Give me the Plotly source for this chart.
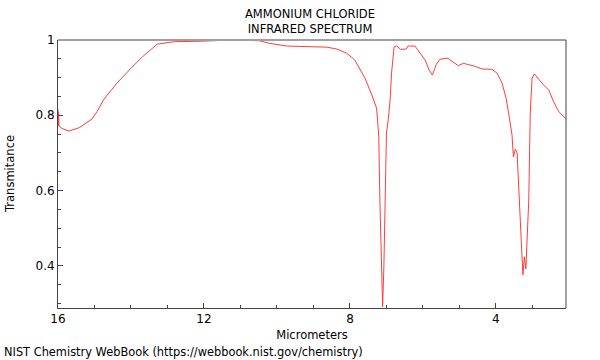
import plotly.graph_objects as go

# Spectrum (wavelength in micrometers, transmittance)
wavelength_um = [16.00, 15.995, 15.986, 15.973, 15.89, 15.70, 15.42, 15.07, 14.93, 14.74,
                 14.38, 13.97, 13.69, 13.28, 12.81, 11.99, 11.71, 11.30, 10.89, 10.48,
                 10.20, 9.73, 9.38, 8.97, 8.64, 8.36, 8.09, 7.87, 7.59, 7.40,
                 7.27, 7.23, 7.21, 7.18, 7.13, 7.105, 7.07, 7.04, 7.00, 6.95,
                 6.90, 6.86, 6.79, 6.72, 6.61, 6.46, 6.41, 6.22, 6.08, 5.94,
                 5.83, 5.74, 5.64, 5.53, 5.31, 5.26, 5.03, 4.89, 4.57, 4.38,
                 4.11, 3.97, 3.83, 3.72, 3.63, 3.56, 3.52, 3.47, 3.42, 3.38,
                 3.32, 3.26, 3.22, 3.18, 3.10, 3.06, 3.01, 2.95, 2.83, 2.69,
                 2.55, 2.42, 2.28, 2.08]
transmittance = [0.817, 0.772, 0.809, 0.772, 0.765, 0.758, 0.767, 0.790, 0.810, 0.843,
                 0.886, 0.928, 0.955, 0.989, 0.9955, 0.997, 0.9987, 1.000, 0.999, 0.998,
                 0.991, 0.984, 0.983, 0.981, 0.981, 0.976, 0.965, 0.947, 0.899, 0.854,
                 0.819, 0.770, 0.742, 0.575, 0.371, 0.291, 0.398, 0.575, 0.753, 0.788,
                 0.841, 0.912, 0.982, 0.984, 0.975, 0.976, 0.984, 0.984, 0.965, 0.947,
                 0.920, 0.907, 0.934, 0.949, 0.952, 0.947, 0.932, 0.938, 0.930, 0.923,
                 0.922, 0.912, 0.885, 0.845, 0.792, 0.748, 0.689, 0.710, 0.700, 0.602,
                 0.495, 0.376, 0.424, 0.392, 0.575, 0.806, 0.898, 0.910, 0.896, 0.880,
                 0.867, 0.836, 0.810, 0.790]

x_ticks = [16, 12, 8, 4]
y_ticks = [0.4, 0.6, 0.8, 1.0]
y_tick_labels = ["0.4", "0.6", "0.8", "1"]

font = "DejaVu Sans"
fs = 11.5
axis_color = "#444444"

fig = go.Figure()
fig.add_trace(go.Scatter(x=wavelength_um, y=transmittance, mode="lines",
                         line=dict(color="#ff3c3c", width=1), hoverinfo="skip"))

fig.update_layout(
    width=600, height=360,
    margin=dict(l=58, r=34, t=40, b=52),
    paper_bgcolor="white", plot_bgcolor="white",
    showlegend=False,
    font=dict(family=font, size=fs, color="black"),
    xaxis=dict(range=[16, 2.08], tickvals=x_ticks, ticktext=[str(v) for v in x_ticks],
               ticks="inside", ticklen=5, tickcolor=axis_color, showgrid=False, zeroline=False,
               showline=True, linecolor=axis_color, linewidth=1,
               minor=dict(ticks="inside", dtick=1, tick0=0, ticklen=3, tickcolor=axis_color, showgrid=False),
               title=dict(text="Micrometers", standoff=5, font=dict(size=fs)),
               tickfont=dict(size=12)),
    yaxis=dict(range=[0.288, 1.0], tickvals=y_ticks, ticktext=y_tick_labels,
               ticks="inside", ticklen=5, tickcolor=axis_color, showgrid=False, zeroline=False,
               showline=True, linecolor=axis_color, linewidth=1, automargin=False,
               minor=dict(ticks="inside", dtick=0.05, tick0=0, ticklen=3, tickcolor=axis_color, showgrid=False),
               tickfont=dict(size=12)),
)

# top (gray) and right (dark) frame lines
fig.add_shape(type="line", xref="paper", yref="paper", x0=0, x1=1, y0=1, y1=1,
              line=dict(color="#a0a0a0", width=2))
fig.add_shape(type="line", xref="paper", yref="paper", x0=1, x1=1, y0=0, y1=1,
              line=dict(color=axis_color, width=1))

fig.add_annotation(text="Transmitance", xref="paper", yref="paper", x=0, y=0.5,
                   xshift=-48, xanchor="center", yanchor="middle", textangle=-90,
                   showarrow=False, font=dict(family=font, size=fs, color="black"))
fig.add_annotation(text="AMMONIUM CHLORIDE<br>INFRARED SPECTRUM", xref="paper", yref="paper",
                   x=0.5, y=1.0, xshift=-2, yshift=2, xanchor="center", yanchor="bottom",
                   showarrow=False, font=dict(family=font, size=fs, color="black"))
fig.add_annotation(text="NIST Chemistry WebBook (https://webbook.nist.gov/chemistry)",
                   xref="paper", yref="paper", x=0, y=0, xshift=-56, yshift=-44,
                   xanchor="left", yanchor="middle", showarrow=False,
                   font=dict(family=font, size=11.4, color="black"))

fig.write_html("out.html", config={"displayModeBar": False},
               post_script="document.body.style.margin='0px';document.body.style.overflow='hidden';")
